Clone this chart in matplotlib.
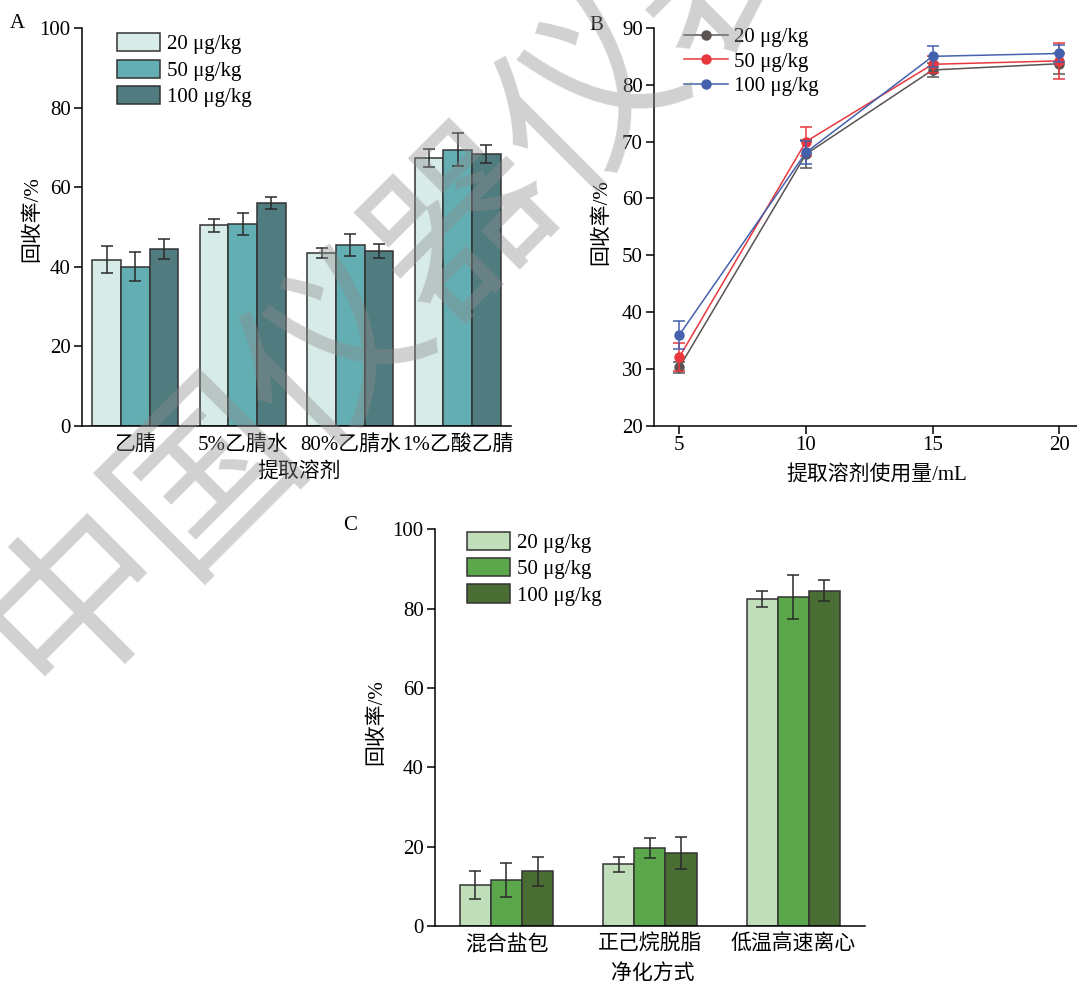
import numpy as np
import matplotlib.pyplot as plt

plt.rcParams['font.family'] = ['Liberation Serif', 'Noto Sans CJK SC']
plt.rcParams['font.size'] = 15
plt.rcParams['axes.linewidth'] = 1.1

levels = ['20 μg/kg', '50 μg/kg', '100 μg/kg']

# A 提取溶剂
solvents = ['乙腈', '5%乙腈水', '80%乙腈水', '1%乙酸乙腈']
a_20 = [41.8, 50.4, 43.4, 67.3]
a_50 = [40.0, 50.8, 45.5, 69.4]
a_100 = [44.4, 56.0, 44.0, 68.3]
a_20_err = [3.3, 1.6, 1.3, 2.3]
a_50_err = [3.6, 2.8, 2.7, 4.2]
a_100_err = [2.5, 1.6, 1.8, 2.2]
a_colors = ['#d7ece8', '#62aeb2', '#507b7f']

# B 提取溶剂使用量
volumes = [5, 10, 15, 20]
b_20 = [30.3, 67.8, 82.6, 83.7]
b_50 = [32.1, 70.0, 83.6, 84.2]
b_100 = [36.0, 68.1, 85.0, 85.5]
b_20_err = [1.0, 2.4, 1.3, 1.8]
b_50_err = [2.5, 2.6, 1.5, 3.1]
b_100_err = [2.5, 2.0, 1.9, 1.5]
b_colors = ['#5b5352', '#e8383d', '#4461ad']

# C 净化方式
methods = ['混合盐包', '正己烷脱脂', '低温高速离心']
c_20 = [10.3, 15.5, 82.4]
c_50 = [11.5, 19.7, 83.0]
c_100 = [13.8, 18.3, 84.5]
c_20_err = [3.5, 1.8, 2.0]
c_50_err = [4.3, 2.5, 5.6]
c_100_err = [3.7, 4.0, 2.6]
c_colors = ['#bfdeb9', '#5ca74b', '#4a6d34']


def style_axes(ax):
    ax.spines['top'].set_visible(False)
    ax.spines['right'].set_visible(False)
    ax.tick_params(axis='y', direction='out', length=6, width=1.1, pad=2)


def bar_panel(ax, cats, series, errs, colors, width):
    x = np.arange(len(cats))
    for i, (vals, err, col, lab) in enumerate(zip(series, errs, colors, levels)):
        ax.bar(x + (i - 1) * width, vals, width, color=col, edgecolor='#333333',
               linewidth=1.1, yerr=err, capsize=4.5, label=lab,
               error_kw=dict(ecolor='#2a2a2a', elinewidth=1.1, capthick=1.1))
    ax.set_xticks(x)
    ax.set_xticklabels(cats)
    ax.set_xlim(-0.5, len(cats) - 0.5)
    ax.set_ylim(0, 100)
    ax.set_yticks(range(0, 101, 20))
    ax.tick_params(axis='x', length=0, pad=6.5)
    style_axes(ax)


fig = plt.figure(figsize=(10.77, 9.86), dpi=100)

# ---- A
axA = fig.add_axes([0.0758, 0.568, 0.399, 0.4037])
bar_panel(axA, solvents, [a_20, a_50, a_100], [a_20_err, a_50_err, a_100_err],
          a_colors, 0.267)
axA.legend(loc='upper left', bbox_to_anchor=(0.0824, 0.9867), frameon=False,
           borderpad=0, borderaxespad=0, handlelength=2.07, handleheight=0.96,
           handletextpad=0.34, labelspacing=0.25)
axA.set_xlabel('提取溶剂', va='center')
axA.xaxis.set_label_coords(0.506, -0.116)
axA.set_ylabel('回收率/%', va='center')
axA.yaxis.set_label_coords(-0.114, 0.52)

# ---- B
axB = fig.add_axes([0.6072, 0.568, 0.3928, 0.4037])
for vals, err, col, lab in zip([b_20, b_50, b_100], [b_20_err, b_50_err, b_100_err],
                               b_colors, levels):
    axB.errorbar(volumes, vals, yerr=err, fmt='none', ecolor=col, elinewidth=1.1,
                 capsize=4.5, capthick=1.1)
    axB.plot(volumes, vals, '-o', color=col, lw=1.1, ms=6.5, label=lab)
axB.set_xlim(4, 20.7)
axB.set_ylim(20, 90)
axB.set_xticks(volumes)
axB.set_yticks(range(20, 91, 10))
axB.tick_params(axis='x', direction='out', length=5.5, width=1.1, pad=2)
style_axes(axB)
axB.legend(loc='upper left', bbox_to_anchor=(0.0705, 1.0017), frameon=False,
           borderpad=0, borderaxespad=0, handlelength=2.14, numpoints=1,
           handletextpad=0.29, labelspacing=0.25)
axB.set_xlabel('提取溶剂使用量/mL', va='center')
axB.xaxis.set_label_coords(0.526, -0.123)
axB.set_ylabel('回收率/%', va='center')
axB.yaxis.set_label_coords(-0.124, 0.513)

# ---- C
axC = fig.add_axes([0.4036, 0.0609, 0.3996, 0.4023])
bar_panel(axC, methods, [c_20, c_50, c_100], [c_20_err, c_50_err, c_100_err],
          c_colors, 0.217)
axC.legend(loc='upper left', bbox_to_anchor=(0.0743, 0.994), frameon=False,
           borderpad=0, borderaxespad=0, handlelength=2.07, handleheight=0.96,
           handletextpad=0.34, labelspacing=0.25)
axC.set_xlabel('净化方式', va='center')
axC.xaxis.set_label_coords(0.507, -0.1235)
axC.set_ylabel('回收率/%', va='center')
axC.yaxis.set_label_coords(-0.1345, 0.515)

# panel letters
fig.text(17 / 1077, 1 - 24 / 986, 'A', ha='center', va='center')
fig.text(596 / 1077, 1 - 25 / 986, 'B', ha='center', va='center')
fig.text(350 / 1077, 1 - 525 / 986, 'C', ha='center', va='center')

# watermark
fig.text(0.0149, 0.3266, '中国仪器仪表', rotation=45, rotation_mode='anchor',
         ha='left', va='center', fontsize=130, family=['Noto Sans CJK SC'],
         color='#8c8c8c', alpha=0.4, zorder=10)

fig.savefig('out.png', dpi=100)
